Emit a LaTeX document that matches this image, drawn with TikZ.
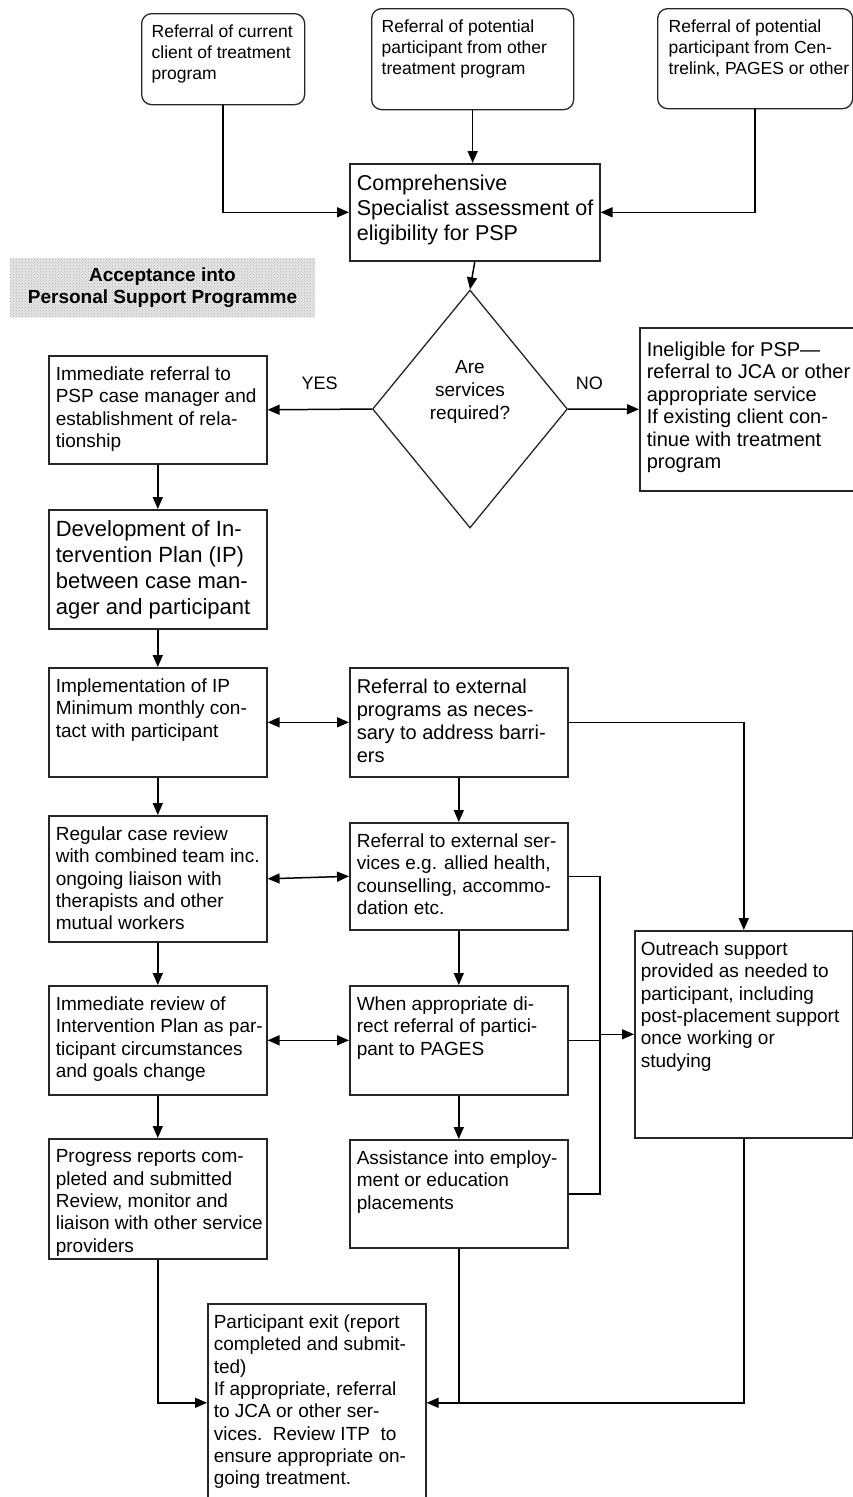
\documentclass[tikz,border=0pt]{standalone}
\usepackage{fontspec}
\setmainfont{Liberation Sans}
\usetikzlibrary{arrows.meta,shapes.geometric,patterns}

% text block inside a box: [left pad]{width}{height}{lines}
\newcommand{\btxt}[4][7pt]{\parbox[c][#3][t]{#2}{\raggedright\leftskip=#1\relax\hyphenpenalty=10000 #4}}

\tikzset{
  box/.style={draw=black!85, line width=1.6pt, anchor=north west, inner xsep=0pt, inner ysep=11pt, font=\fontsize{19pt}{22.3pt}\selectfont},
  srcbox/.style={box, line width=1.3pt, rounded corners=10pt, font=\fontsize{17.5pt}{21pt}\selectfont},
  bigbox/.style={box, font=\fontsize{21.5pt}{25pt}\selectfont},
  decision/.style={diamond, draw=black!85, line width=1.3pt, aspect=0.82, inner sep=0pt, minimum width=195pt, minimum height=238pt},
  accept/.style={preaction={fill=black!10}, pattern=crosshatch dots, pattern color=black!30, minimum width=305pt, minimum height=59pt, align=center, font=\fontsize{19pt}{22.7pt}\selectfont\bfseries},
  arr/.style={-{Triangle[length=12pt,width=10pt]}, line width=1.5pt},
  twoway/.style={{Triangle[length=12pt,width=10pt]}-{Triangle[length=12pt,width=10pt]}, line width=1.5pt},
  link/.style={line width=1.5pt},
  answer/.style={inner sep=0pt, above=19pt, font=\fontsize{18pt}{20pt}\selectfont}
}

\begin{document}
\begin{tikzpicture}[x=1pt, y=-1pt]
    \useasboundingbox (0,0) rectangle (853,1497);

    % Referral sources
    \node[srcbox] (src1) at (141,13) {\btxt[10pt]{163pt}{69pt}{Referral of current\\client of treatment\\program}};
    \node[srcbox] (src2) at (371,8) {\btxt[10pt]{202pt}{79pt}{Referral of potential\\participant from other\\treatment program}};
    \node[srcbox] (src3) at (657,8) {\btxt[11pt]{195pt}{78pt}{Referral of potential\\participant from Cen-\\trelink, PAGES or other}};

    % Assessment and decision
    \node[bigbox] (assess) at (349,163) {\btxt{250pt}{75pt}{Comprehensive\\Specialist assessment of\\eligibility for PSP}};
    \node[decision, label={[yshift=17pt, align=center, font=\fontsize{19pt}{23pt}\selectfont]center:{Are\\services\\required?}}] (decide) at (470,409) {};
    \node[accept] (accept) at (162.5,287.5) {Acceptance into\\Personal Support Programme};
    \node[box, font=\fontsize{20pt}{22.5pt}\selectfont] (inelig) at (639,327) {\btxt{230pt}{141pt}{\vspace*{3pt}Ineligible for PSP—\\referral to JCA or other\\appropriate service\\If existing client con-\\tinue with treatment\\program}};

    % Case management column
    \node[box] (refer) at (48,355) {\btxt{218pt}{86pt}{Immediate referral to\\PSP case manager and\\establishment of rela-\\tionship}};
    \node[box, font=\fontsize{22pt}{26pt}\selectfont] (develop) at (48,509) {\btxt{218pt}{97pt}{Development of In-\\tervention Plan (IP)\\between case man-\\ager and participant}};
    \node[box] (implement) at (48,667) {\btxt{218pt}{87pt}{Implementation of IP\\Minimum monthly con-\\tact with participant}};
    \node[box] (review) at (48,815) {\btxt{218pt}{104pt}{Regular case review\\with combined team inc.\\ongoing liaison with\\therapists and other\\mutual workers}};
    \node[box] (revise) at (48,985) {\btxt{218pt}{87pt}{Immediate review of\\Intervention Plan as par-\\ticipant circumstances\\and goals change}};
    \node[box] (progress) at (48,1138) {\btxt{218pt}{98pt}{Progress reports com-\\pleted and submitted\\Review, monitor and\\liaison with other service\\providers}};

    % External referrals column
    \node[box, font=\fontsize{20pt}{23pt}\selectfont] (extprog) at (349,667) {\btxt{218pt}{87pt}{Referral to external\\programs as neces-\\sary to address barri-\\ers}};
    \node[box] (extserv) at (349,822) {\btxt{218pt}{85pt}{Referral to external ser-\\vices e.g. allied health,\\counselling, accommo-\\dation etc.}};
    \node[box] (pages) at (349,985) {\btxt{218pt}{87pt}{When appropriate di-\\rect referral of partici-\\pant to PAGES}};
    \node[box] (assist) at (349,1139) {\btxt{218pt}{86pt}{Assistance into employ-\\ment or education\\placements}};

    % Outreach and exit
    \node[box] (outreach) at (634,930) {\btxt[6pt]{218pt}{185pt}{Outreach support\\provided as needed to\\participant, including\\post-placement support\\once working or\\studying}};
    \node[box] (exit) at (207,1303) {\btxt[6pt]{218pt}{176pt}{Participant exit (report\\completed and submit-\\ted)\\If appropriate, referral\\to JCA or other ser-\\vices.\ \ Review ITP\ \ to\\ensure appropriate on-\\going treatment.}};

    \coordinate (bus) at (600,0);

    % Connections
    \draw[arr] (src1.south) |- (assess.west);
    \draw[arr] (src2.south) -- (src2.south |- assess.north);
    \draw[arr] (src3.south) |- (assess.east);
    \draw[arr] (assess.south) -- (decide.north);
    \draw[arr] (decide.west) -- node[answer] {YES} (refer.east);
    \draw[arr] (decide.east) -- node[answer, pos=0.3] {NO} (inelig.west);

    \draw[arr] (refer) -- (develop);
    \draw[arr] (develop) -- (implement);
    \draw[arr] (implement) -- (review);
    \draw[arr] (review) -- (revise);
    \draw[arr] (revise) -- (progress);

    \draw[arr] (extprog) -- (extserv);
    \draw[arr] (extserv) -- (pages);
    \draw[arr] (pages) -- (assist);

    \draw[twoway] (implement.east) -- (extprog.west);
    \draw[twoway] (review.east) -- (extserv.west);
    \draw[twoway] (revise.east) -- (pages.west);

    \draw[arr] (extprog.east) -| (outreach.north);
    \draw[link] (extserv.east) -| (bus |- assist.east) -- (assist.east);
    \draw[link] (pages.east) -- (pages.east -| bus);
    \draw[arr] (bus |- outreach.west) -- (outreach.west);

    \draw[arr] (progress.south) |- (exit.west);
    \draw[arr] (assist.south) |- (exit.east);
    \draw[link] (outreach.south) |- (assist.south |- exit.east);
\end{tikzpicture}
\end{document}
